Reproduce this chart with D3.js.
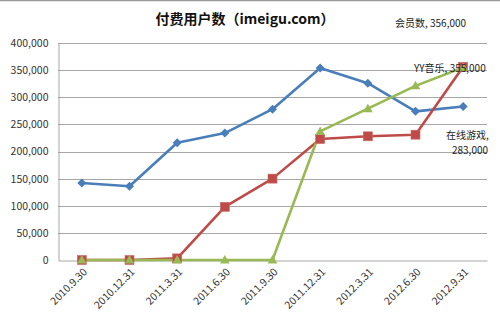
<!DOCTYPE html>
<html><head><meta charset="utf-8">
<script src="https://cdn.jsdelivr.net/npm/d3@7/dist/d3.min.js"></script>
<style>body{margin:0;background:#fff}svg{display:block}</style>
</head><body><svg id="c" width="500" height="323"></svg>
<script>
const categories = ["2010.9.30","2010.12.31","2011.3.31","2011.6.30","2011.9.30","2011.12.31","2012.3.31","2012.6.30","2012.9.31"];
const onlineGame = [142000,136000,216000,234000,278000,354000,326000,274000,283000];
const members = [0,0,3000,98000,150000,223000,228000,231000,356000];
const yyMusic = [0,0,0,0,0,237000,279000,321000,355000];
const yTicks = [0,50000,100000,150000,200000,250000,300000,350000,400000];
const seriesNames = ["在线游戏","会员数","YY音乐"];

const svg = d3.select("#c");
const font = "'Noto Sans CJK SC', 'Liberation Sans', sans-serif";
const m = {l:58, r:487, t:43, b:260};
const x = d3.scaleBand().domain(categories).range([m.l, m.r]);
const y = d3.scaleLinear().domain([0,400000]).range([m.b, m.t]);
const cx = d => x(d) + x.bandwidth()/2;

svg.append("line").attr("x1",0).attr("x2",500).attr("y1",0.5).attr("y2",0.5).attr("stroke","#999").attr("stroke-width",1.5);

// gridlines
svg.append("g").selectAll("line").data(yTicks.slice(1)).join("line")
  .attr("x1", m.l).attr("x2", m.r).attr("y1", d=>Math.round(y(d))+0.5).attr("y2", d=>Math.round(y(d))+0.5)
  .attr("stroke","#a6a6a6").attr("stroke-width",1);

// y axis
const yAxis = d3.axisLeft(y).tickValues(yTicks).tickSize(0).tickPadding(10).tickFormat(d3.format(","));
const ya = svg.append("g").attr("transform",`translate(${m.l+0.5},0)`).call(yAxis);
ya.select(".domain").attr("stroke","#a6a6a6");
ya.selectAll("text").attr("font-family",font).attr("font-size",10.5).attr("fill","#333");

// x axis
const xAxis = d3.axisBottom(x).tickSize(0).tickPadding(0);
const xa = svg.append("g").attr("transform",`translate(0,${Math.round(m.b)+0.5})`).call(xAxis);
xa.select(".domain").attr("stroke","#a6a6a6");
xa.selectAll("text").attr("font-family",font).attr("font-size",10.5).attr("fill","#333")
  .attr("text-anchor","end").attr("dy",0)
  .attr("transform","translate(6,12) rotate(-45)");

const line = d3.line().x((d,i)=>cx(categories[i])).y(d=>y(d));
const series = [
  {vals: onlineGame, color:"#4a7ebb", shape:"diamond"},
  {vals: members, color:"#be4b48", shape:"square"},
  {vals: yyMusic, color:"#98b954", shape:"triangle"}
];
series.forEach(s=>{
  svg.append("path").datum(s.vals).attr("d",line).attr("fill","none").attr("stroke",s.color).attr("stroke-width",2.6).attr("stroke-linejoin","round");
});
series.forEach(s=>{
  const g = svg.append("g");
  s.vals.forEach((v,i)=>{
    const px = cx(categories[i]), py = y(v);
    if (s.shape==="diamond") {
      g.append("path").attr("d",`M${px},${py-4.5}L${px+4.5},${py}L${px},${py+4.5}L${px-4.5},${py}Z`).attr("fill",s.color);
    } else if (s.shape==="square") {
      g.append("rect").attr("x",px-4.5).attr("y",py-4.5).attr("width",9).attr("height",9).attr("fill",s.color).attr("stroke","#c86a68").attr("stroke-width",0.6);
    } else {
      g.append("path").attr("d",`M${px},${py-5}L${px+4.8},${py+3.5}L${px-4.8},${py+3.5}Z`).attr("fill",s.color);
    }
  });
});

// title
svg.append("text").attr("x",245).attr("y",24).attr("text-anchor","middle").attr("font-family",font)
  .attr("font-size",14).attr("font-weight","bold").attr("fill","#111").text("付费用户数（imeigu.com）");

// data labels
const fmt = d3.format(",");
const lbl = (t,xx,yy,anchor="start")=>svg.append("text").attr("x",xx).attr("y",yy).attr("text-anchor",anchor)
  .attr("font-family",font).attr("font-size",10).attr("fill","#222").text(t);
lbl(seriesNames[1]+", "+fmt(members[8]), 395, 27);
lbl(seriesNames[2]+", "+fmt(yyMusic[8]), 414, 72);
lbl(seriesNames[0]+",", 446, 139);
lbl(fmt(onlineGame[8]), 470, 154, "middle");
</script></body></html>
